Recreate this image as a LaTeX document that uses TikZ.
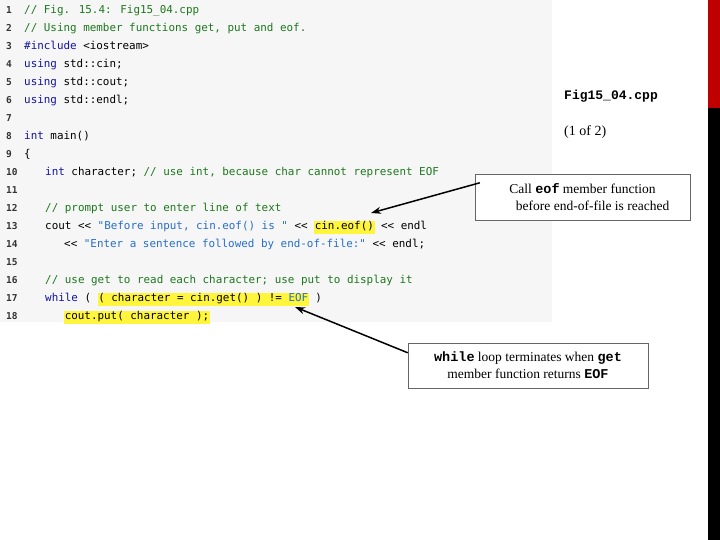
\documentclass[tikz,border=0pt]{standalone}
\usepackage{fontspec}
\usetikzlibrary{arrows.meta}
\setmainfont{Liberation Serif}
\newfontfamily\cm{DejaVu Sans Mono}
\newfontfamily\lm{Liberation Mono}
\definecolor{cmt}{RGB}{30,120,30}
\definecolor{kw}{RGB}{20,20,160}
\definecolor{str}{RGB}{40,110,200}
\definecolor{hl}{RGB}{255,245,60}
\definecolor{bg}{RGB}{246,246,246}
\newcommand{\C}[1]{\textcolor{cmt}{#1}}
\newcommand{\K}[1]{\textcolor{kw}{#1}}
\newcommand{\Ss}[1]{\textcolor{str}{#1}}
\newcommand{\Hl}[1]{{\setlength{\fboxsep}{0.6pt}\colorbox{hl}{\strut #1}}}
\begin{document}
\begin{tikzpicture}[x=1pt,y=1pt,
  code/.style={anchor=base west,inner sep=0,font=\cm\fontsize{10.9}{12}\selectfont},
  num/.style={anchor=base west,inner sep=0,font=\cm\bfseries\fontsize{9.5}{12}\selectfont,text=black!80},
  callout/.style={draw=black!60,fill=white,inner sep=3pt,font=\fontsize{13.5}{17}\selectfont,align=center},
  arr/.style={-{Stealth[length=10pt,width=7pt]},line width=1.5pt}]
\useasboundingbox (0,0) rectangle (720,540);
\fill[bg] (0,218) rectangle (552,540);
\fill[red!75!black] (708,432) rectangle (720,540);
\fill[black] (708,0) rectangle (720,432);
\foreach \n in {1,...,18}{\node[num] at (6,{540-\n*18+4}) {\n};}
\def\L#1#2#3{\node[code] (l#1) at (#2,{540-#1*18+4}) {#3};}
\L{1}{24}{\C{// Fig. 15.4: Fig15\_04.cpp}}
\L{2}{24}{\C{// Using member functions get, put and eof.}}
\L{3}{24}{\K{\#include} <iostream>}
\L{4}{24}{\K{using} std::cin;}
\L{5}{24}{\K{using} std::cout;}
\L{6}{24}{\K{using} std::endl;}
\L{8}{24}{\K{int} main()}
\L{9}{24}{\{}
\L{10}{45}{\K{int} character; \C{// use int, because char cannot represent EOF}}
\L{12}{45}{\C{// prompt user to enter line of text}}
\L{13}{45}{cout << \Ss{"Before input, cin.eof() is "} << \Hl{cin.eof()} << endl}
\L{14}{64}{<< \Ss{"Enter a sentence followed by end-of-file:"} << endl;}
\L{16}{45}{\C{// use get to read each character; use put to display it}}
\L{17}{45}{\K{while} ( \Hl{( character = cin.get() ) != \Ss{EOF}} )}
\L{18}{64}{\Hl{cout.put( character );}}
\node[anchor=base west,inner sep=0,font=\lm\bfseries\fontsize{13}{15}\selectfont] (fig) at (564,440) {Fig15\_04.cpp};
\node[anchor=base west,inner sep=0,font=\fontsize{14}{16}\selectfont] (pg) at (564,404) {(1 of 2)};
\node[callout,minimum width=215pt,minimum height=46pt] (c1) at (582.5,343) {Call {\lm\bfseries eof} member function\\ \hspace*{1.5em}before end-of-file is reached};
\node[callout,minimum width=240pt,minimum height=45pt] (c2) at (528,174.5) {{\lm\bfseries while} loop terminates when {\lm\bfseries get}\\member function returns {\lm\bfseries EOF}};
\coordinate (a1) at (371,327);
\coordinate (a2) at (295,233);
\draw[arr] ([xshift=5pt,yshift=-9pt]c1.north west) -- (a1);
\draw[arr] ([xshift=0pt,yshift=-10pt]c2.north west) -- (a2);
\end{tikzpicture}
\end{document}
